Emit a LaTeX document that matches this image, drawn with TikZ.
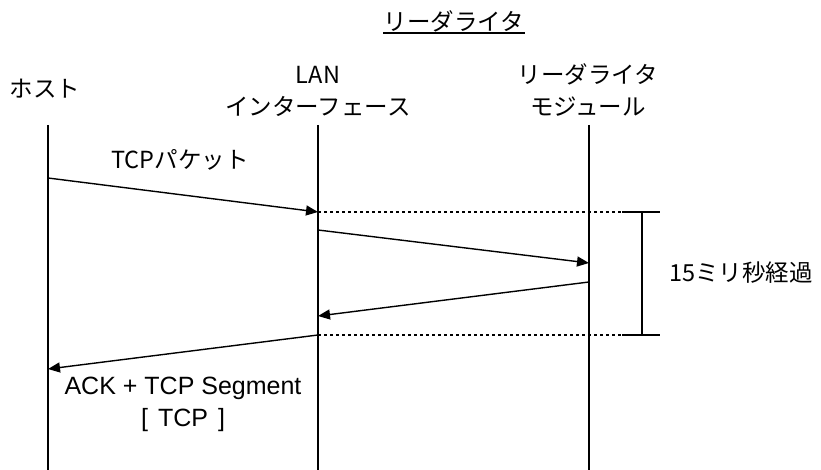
\documentclass[tikz,border=0pt]{standalone}
\usepackage{fontspec}
\newfontfamily\jp{Noto Sans CJK JP}
\newfontfamily\lat{Liberation Sans}
\usetikzlibrary{arrows.meta}
\begin{document}
\begin{tikzpicture}[x=1pt,y=-1pt,
  lbl/.style={inner sep=0pt,align=center,font=\jp\fontsize{23.5}{32}\selectfont},
  latlbl/.style={inner sep=0pt,align=center,font=\lat\fontsize{25}{32}\selectfont},
  life/.style={line width=1.4pt},
  msg/.style={line width=1.4pt,-{Triangle[length=12pt,width=10pt]}},
  dotline/.style={line width=1.1pt,dash pattern=on 3pt off 3pt},
  brk/.style={line width=1.4pt}]
\useasboundingbox (0,0) rectangle (821,470);
% title
\node[lbl] (title) at (454,21) {リーダライタ};
\coordinate (ulA) at (383,33);
\coordinate (ulB) at (525,33);
\draw[line width=1.1pt] (ulA) -- (ulB);
% participants
\node[lbl] (host) at (45,89) {ホスト};
\node[lbl] (lan) at (318,91) {LAN\\インターフェース};
\node[lbl] (rw) at (588,90) {リーダライタ\\モジュール};
% lifelines
\coordinate (hT) at (48,125); \coordinate (hB) at (48,470);
\coordinate (lT) at (318,125); \coordinate (lB) at (318,470);
\coordinate (rT) at (589,125); \coordinate (rB) at (589,470);
\draw[life] (hT) -- (hB);
\draw[life] (lT) -- (lB);
\draw[life] (rT) -- (rB);
% message points
\coordinate (h1) at (48,178);
\coordinate (l1) at (318,212);
\coordinate (l2) at (318,230);
\coordinate (r2) at (589,263);
\coordinate (r3) at (589,282);
\coordinate (l3) at (318,316);
\coordinate (l4) at (318,335);
\coordinate (h4) at (48,369);
\draw[msg] (h1) -- (l1);
\draw[msg] (l2) -- (r2);
\draw[msg] (r3) -- (l3);
\draw[msg] (l4) -- (h4);
% dotted timing lines and bracket
\coordinate (d1) at (622,212);
\coordinate (d2) at (622,335);
\coordinate (b1) at (660,212);
\coordinate (b2) at (660,335);
\coordinate (v1) at (642,212);
\coordinate (v2) at (642,335);
\draw[dotline] (l1) -- (d1);
\draw[dotline] (l4) -- (d2);
\draw[brk] (d1) -- (b1);
\draw[brk] (d2) -- (b2);
\draw[brk] (v1) -- (v2);
% labels
\node[lbl] (tcp) at (180,160) {TCPパケット};
\node[lbl] (ms) at (741,273) {15ミリ秒経過};
\node[latlbl] (ack) at (183,404) {ACK + TCP Segment\\{[}\hspace{10pt}TCP\hspace{10pt}]};
\end{tikzpicture}
\end{document}
